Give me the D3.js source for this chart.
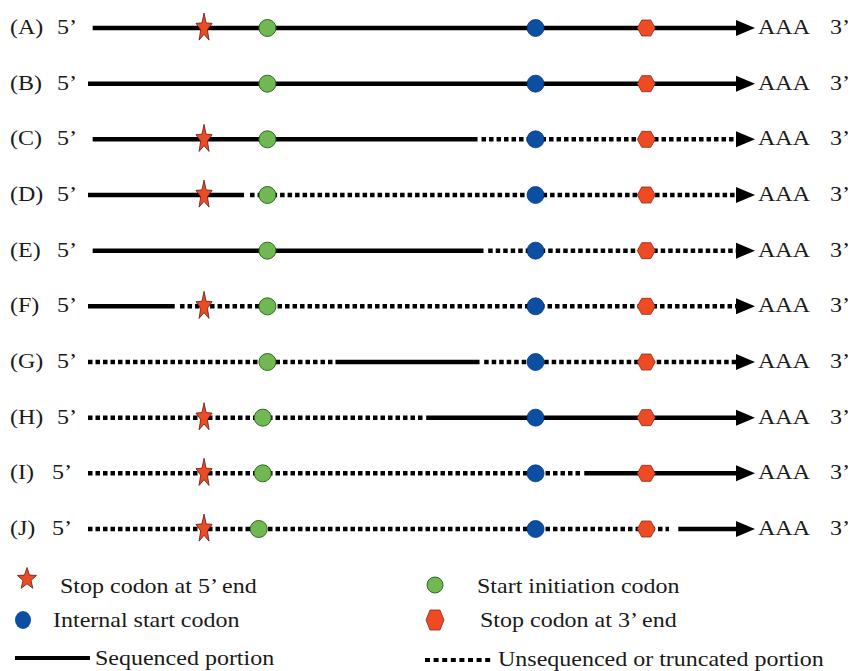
<!DOCTYPE html>
<html>
<head>
<meta charset="utf-8">
<script src="https://cdn.jsdelivr.net/npm/d3@7"></script>
<style>
body { margin: 0; background: #fff; }
</style>
</head>
<body>
<script>
// position units: 0 = 5' end of line, 100 = tip of the arrow
const rows = ["A", "B", "C", "D", "E", "F", "G", "H", "I", "J"];
const stopFive = [17.4, null, 17.4, 17.4, null, 17.4, null, 17.4, 17.4, 17.4];
const startCodon = [26.9, 26.9, 26.9, 26.9, 26.9, 26.9, 26.9, 26.2, 26.2, 25.6];
const internalStart = [67.1, 67.1, 67.1, 67.1, 67.1, 67.1, 67.1, 67.1, 67.1, 67.1];
const stopThree = [83.7, 83.7, 83.7, 83.7, 83.7, 83.7, 83.7, 83.7, 83.7, 83.7];
// [from, to, sequenced?]
const segments = [
  [[0.7, 100, 1]],
  [[0, 100, 1]],
  [[0.7, 58.4, 1], [59.0, 100, 0]],
  [[0, 23.4, 1], [24.3, 100, 0]],
  [[0.7, 59.3, 1], [60.0, 100, 0]],
  [[0, 13.0, 1], [13.8, 100, 0]],
  [[0, 36.8, 0], [37.1, 58.7, 1], [59.4, 100, 0]],
  [[0, 50.4, 0], [50.7, 100, 1]],
  [[0, 74.0, 0], [74.4, 100, 1]],
  [[0, 87.1, 0], [88.5, 100, 1]]
];
const legendLeft = ["Stop codon at 5\u2019 end", "Internal start codon", "Sequenced portion"];
const legendRight = ["Start initiation codon", "Stop codon at 3\u2019 end", "Unsequenced or truncated portion"];

const W = 854, H = 671;
const FONT = "'Liberation Serif', 'DejaVu Serif', 'Times New Roman', serif";
const svg = d3.select("body").append("svg").attr("width", W).attr("height", H)
  .attr("font-family", FONT);

const x = d3.scaleLinear().domain([0, 100]).range([88, 755]);
const y = d3.scalePoint().domain(rows).range([28, 529]);

const green = "#72b852", blue = "#0b4ea2", red = "#ee4b25";
const closed = d3.line().curve(d3.curveLinearClosed);
function starPts(rx, ry) {
  return d3.range(10).map(k => {
    const a = (-90 + 36 * k) * Math.PI / 180, f = k % 2 ? 0.42 : 1;
    return [Math.cos(a) * rx * f, Math.sin(a) * ry * f];
  });
}
function hexPts(w, h) {
  return [[-w / 2, 0], [-w / 4, -h / 2], [w / 4, -h / 2], [w / 2, 0], [w / 4, h / 2], [-w / 4, h / 2]];
}
// the source type is a little wide, so stretch it sideways
function label(sel, tx, ty, txt) {
  return sel.append("text").attr("transform", `translate(${tx},${ty}) scale(1.2,1)`)
    .attr("font-size", 20).attr("fill", "#1a1a1a").text(txt);
}

const g = svg.append("g");

rows.forEach((r, i) => {
  const cy = y(r);
  const row = g.append("g");

  label(row, 10, cy + 6, "(" + r + ")");
  label(row, i >= 8 ? 52 : 57, cy + 6, "5\u2019");

  const tip = x(100);
  segments[i].forEach(s => {
    const x1 = x(s[0]);
    const x2 = s[1] === 100 ? tip - 16 : x(s[1]);
    row.append("line")
      .attr("x1", x1).attr("x2", x2).attr("y1", cy).attr("y2", cy)
      .attr("stroke", "#000").attr("stroke-width", 4.5)
      .attr("stroke-dasharray", s[2] ? null : "4.5,3");
  });

  row.append("path")
    .attr("d", `M${tip - 19},${cy - 8}L${tip},${cy}L${tip - 19},${cy + 8}Z`)
    .attr("fill", "#000");

  label(row, tip + 3, cy + 6, "AAA");
  label(row, 830, cy + 6, "3\u2019");

  if (stopFive[i] !== null) {
    row.append("path").attr("d", closed(starPts(8.5, 15)))
      .attr("transform", `translate(${x(stopFive[i])},${cy})`)
      .attr("fill", red).attr("stroke", "#5a1a10").attr("stroke-width", 0.8);
  }
  row.append("circle").attr("cx", x(startCodon[i])).attr("cy", cy).attr("r", 8.5)
    .attr("fill", green).attr("stroke", "#2d6a25").attr("stroke-width", 1);
  row.append("circle").attr("cx", x(internalStart[i])).attr("cy", cy).attr("r", 8.5)
    .attr("fill", blue).attr("stroke", "#083a7a").attr("stroke-width", 0.8);
  row.append("path").attr("d", closed(hexPts(18, 16)))
    .attr("transform", `translate(${x(stopThree[i])},${cy})`)
    .attr("fill", red).attr("stroke", "#8a2a14").attr("stroke-width", 0.8);
});

// legend
const lg = svg.append("g");
lg.append("path").attr("d", closed(starPts(10, 11.5)))
  .attr("transform", "translate(27,579)")
  .attr("fill", red).attr("stroke", "#5a1a10").attr("stroke-width", 0.8);
label(lg, 60, 593, legendLeft[0]);

lg.append("ellipse").attr("cx", 23).attr("cy", 620).attr("rx", 8).attr("ry", 9)
  .attr("fill", blue);
label(lg, 53, 627, legendLeft[1]);

lg.append("line").attr("x1", 15).attr("x2", 90).attr("y1", 658).attr("y2", 658)
  .attr("stroke", "#000").attr("stroke-width", 4);
label(lg, 95, 665, legendLeft[2]);

lg.append("circle").attr("cx", 435).attr("cy", 585).attr("r", 8)
  .attr("fill", green).attr("stroke", "#2d6a25");
label(lg, 477, 593, legendRight[0]);

lg.append("path").attr("d", closed([[-9, 0], [-5, -10], [5, -10], [9, 0], [5, 10], [-5, 10]]))
  .attr("transform", "translate(435,620)")
  .attr("fill", red).attr("stroke", "#8a2a14").attr("stroke-width", 0.8);
label(lg, 480, 627, legendRight[1]);

lg.append("line").attr("x1", 425).attr("x2", 493).attr("y1", 660).attr("y2", 660)
  .attr("stroke", "#000").attr("stroke-width", 4).attr("stroke-dasharray", "5,3.6");
label(lg, 498, 666, legendRight[2]);
</script>
</body>
</html>
